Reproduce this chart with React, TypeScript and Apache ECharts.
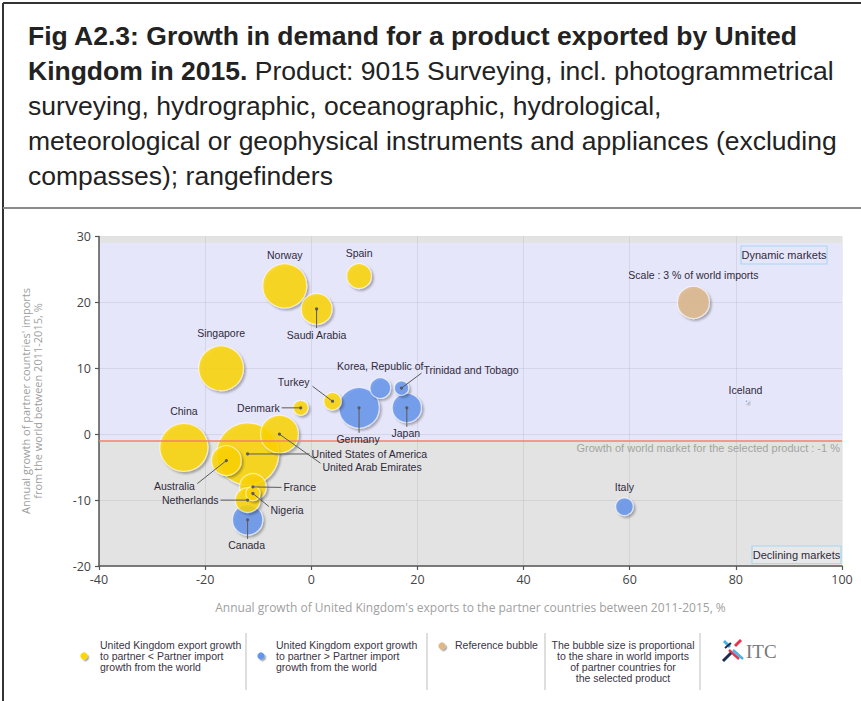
import React, { useEffect, useRef } from "react";
import * as echarts from "echarts";

// ---------- data ----------
const countries = [
  "Norway",
  "Spain",
  "Saudi Arabia",
  "Singapore",
  "Turkey",
  "Denmark",
  "Germany",
  "Korea, Republic of",
  "Trinidad and Tobago",
  "Japan",
  "China",
  "United States of America",
  "United Arab Emirates",
  "Australia",
  "France",
  "Netherlands",
  "Nigeria",
  "Canada",
  "Italy",
  "Iceland",
];
// Annual growth of UK exports to partner, 2011-2015 (%)
const exportGrowth = [-5, 9, 1, -17, 4, -2, 9, 13, 17, 18, -24, -12, -6, -16, -11, -12, -11, -12, 59, 82];
// Annual growth of partner imports from the world, 2011-2015 (%)
const importGrowth = [22.5, 24, 19, 10, 5, 4, 4, 7, 7, 4, -2, -3, 0, -4, -8, -10, -9, -13, -11, 5];
// Share in world imports (%), drives bubble size
const importShare = [5.7, 1.8, 2.8, 5.9, 0.9, 0.65, 4.8, 1.25, 0.6, 2.5, 6.8, 11.3, 4.2, 2.6, 2.1, 1.8, 0.6, 2.7, 0.9, 0.02];

const referenceLabel = "Scale : 3 % of world imports";
const referencePoint = [72, 20];
const referenceShare = 3;
const worldMarketGrowth = -1;
const dynamicAreaTop = 29;
const xRange = [-40, 100];
const xInterval = 20;
const yRange = [-20, 30];
const yInterval = 10;

// ---------- styling / label placement (pixels relative to bubble centre) ----------
type Lay = { dx: number; dy: number; align?: string; line?: [number, number] };
const labelLayout: Record<string, Lay> = {
  Norway: { dx: 0, dy: -31 },
  Spain: { dx: 0, dy: -23 },
  "Saudi Arabia": { dx: 0, dy: 26, line: [0, 19] },
  Singapore: { dx: 0, dy: -35 },
  Turkey: { dx: -23, dy: -19, align: "right", line: [-20, -15] },
  Denmark: { dx: -21, dy: 0, align: "right", line: [-19, 0] },
  Germany: { dx: -1, dy: 31.5, line: [0, 25] },
  "Korea, Republic of": { dx: 0, dy: -22 },
  "Trinidad and Tobago": { dx: 22, dy: -18, align: "left", line: [20, -15] },
  Japan: { dx: -1, dy: 25, line: [0, 19] },
  China: { dx: 0, dy: -36.5 },
  "United States of America": { dx: 64, dy: 0, align: "left", line: [62, 0] },
  "United Arab Emirates": { dx: 43, dy: 32.5, align: "left", line: [41, 29] },
  Australia: { dx: -31.5, dy: 25.5, align: "right", line: [-29, 23] },
  France: { dx: 30.5, dy: 0.5, align: "left", line: [28.5, 0.5] },
  Netherlands: { dx: -29, dy: 0, align: "right", line: [-27, 0] },
  Nigeria: { dx: 17.5, dy: 16.5, align: "left", line: [16, 13] },
  Canada: { dx: -1, dy: 25.5, line: [0, 19] },
  Italy: { dx: 0, dy: -20 },
  Iceland: { dx: -1, dy: -11.5 },
  [referenceLabel]: { dx: 0, dy: -27.5 },
};

const YELLOW = "#ffd700";
const BLUE = "#6495ed";
const TAN = "#deb887";
const LAVENDER = "#e6e6fa";
const PLOT_GRAY = "#e3e3e3";
const LABEL_FONT = "'Liberation Sans', Arial, sans-serif";
const AXIS_FONT = "'Open Sans', 'Noto Sans', sans-serif";

const bubbleDiameter = (share: number) => 32 * Math.sqrt(share / referenceShare);

const bubbleStyle = (color: string) => ({
  color,
  borderColor: "rgba(255,255,255,0.75)",
  borderWidth: 1.2,
  shadowColor: "rgba(0,0,0,0.35)",
  shadowBlur: 2,
  shadowOffsetX: 2,
  shadowOffsetY: 2,
});

export default function App() {
  const ref = useRef<HTMLDivElement>(null);

  useEffect(() => {
    if (!ref.current) return;
    const chart = echarts.init(ref.current, undefined, { renderer: "svg" });

    const idx = countries.map((_, i) => i).sort((a, b) => importShare[b] - importShare[a]);
    const blueData = idx
      .filter((i) => exportGrowth[i] > importGrowth[i])
      .map((i) => ({ name: countries[i], value: [exportGrowth[i], importGrowth[i], importShare[i]] }));
    const yellowData = idx
      .filter((i) => exportGrowth[i] <= importGrowth[i])
      .map((i) => ({ name: countries[i], value: [exportGrowth[i], importGrowth[i], importShare[i]] }));

    const labelData = countries.map((_, i) => [exportGrowth[i], importGrowth[i], i]);
    labelData.push([referencePoint[0], referencePoint[1], -1]);

    const titleStyle = { fontSize: 26.5, fontFamily: LABEL_FONT, fill: "#222", textVerticalAlign: "middle" };
    const legendText = { fontSize: 10.5, fontFamily: LABEL_FONT, fill: "#3a3445", lineHeight: 11, textVerticalAlign: "middle" };
    const dot = (cx: number, cy: number, color: string) => ({
      type: "circle",
      shape: { cx, cy, r: 3.6 },
      style: { fill: color, shadowColor: "rgba(0,0,0,0.35)", shadowBlur: 1.5, shadowOffsetX: 1.5, shadowOffsetY: 1.5 },
    });
    const sep = (x: number) => ({
      type: "line",
      shape: { x1: x, y1: 633, x2: x, y2: 690 },
      style: { stroke: "#c8c8c8", lineWidth: 1.2 },
    });
    const tagStyle = { fontSize: 11, fontFamily: LABEL_FONT, fill: "#2f2a3a", textAlign: "center", textVerticalAlign: "middle" };

    const option: any = {
      animation: false,
      grid: {
        left: 99,
        right: 19,
        top: 236.5,
        bottom: 135,
        show: true,
        backgroundColor: PLOT_GRAY,
        borderWidth: 0,
      },
      xAxis: {
        type: "value",
        min: xRange[0],
        max: xRange[1],
        interval: xInterval,
        z: 2,
        axisLine: { onZero: false, lineStyle: { color: "#555", width: 1.5 } },
        axisTick: { show: true, length: 4, lineStyle: { color: "#555", width: 1.2 } },
        axisLabel: { color: "#444", fontSize: 12.5, fontFamily: AXIS_FONT, margin: 7 },
        splitLine: { show: true, lineStyle: { color: "rgba(0,0,0,0.07)", width: 1 } },
      },
      yAxis: {
        type: "value",
        min: yRange[0],
        max: yRange[1],
        interval: yInterval,
        z: 2,
        axisLine: { show: true, onZero: false, lineStyle: { color: "#555", width: 1.5 } },
        axisTick: { show: true, length: 4, lineStyle: { color: "#555", width: 1.2 } },
        axisLabel: { color: "#444", fontSize: 12.5, fontFamily: AXIS_FONT, margin: 8 },
        splitLine: { show: true, lineStyle: { color: "rgba(0,0,0,0.07)", width: 1 } },
      },
      series: [
        {
          type: "scatter",
          name: "areas",
          data: [],
          z: 1,
          silent: true,
          markArea: {
            silent: true,
            itemStyle: { color: LAVENDER },
            data: [[{ yAxis: worldMarketGrowth }, { yAxis: dynamicAreaTop }]],
          },
          markLine: {
            silent: true,
            symbol: "none",
            data: [
              {
                yAxis: worldMarketGrowth,
                lineStyle: { color: "#f4806c", width: 1.6, type: "solid" },
                label: {
                  show: true,
                  position: "insideEndBottom",
                  formatter: `Growth of world market for the selected product : ${worldMarketGrowth} %`,
                  color: "#a3a3a3",
                  fontSize: 11,
                  fontFamily: LABEL_FONT,
                  distance: 2,
                },
              },
              {
                yAxis: worldMarketGrowth,
                lineStyle: { opacity: 0 },
                label: {
                  show: true,
                  position: "start",
                  formatter: String(worldMarketGrowth),
                  color: "#e8432f",
                  fontSize: 11,
                  fontFamily: LABEL_FONT,
                  distance: 12,
                },
              },
            ],
          },
        },
        {
          type: "scatter",
          name: "UK export growth > partner import growth",
          data: blueData,
          z: 3,
          silent: true,
          symbolSize: (v: number[]) => bubbleDiameter(v[2]),
          itemStyle: bubbleStyle(BLUE),
        },
        {
          type: "scatter",
          name: "UK export growth < partner import growth",
          data: yellowData,
          z: 4,
          silent: true,
          symbolSize: (v: number[]) => bubbleDiameter(v[2]),
          itemStyle: bubbleStyle(YELLOW),
        },
        {
          type: "scatter",
          name: "Reference bubble",
          data: [{ name: referenceLabel, value: [referencePoint[0], referencePoint[1], referenceShare] }],
          z: 4,
          silent: true,
          symbolSize: (v: number[]) => bubbleDiameter(v[2]),
          itemStyle: bubbleStyle(TAN),
        },
        {
          type: "custom",
          name: "labels",
          data: labelData,
          z: 5,
          silent: true,
          clip: false,
          renderItem: (params: any, api: any) => {
            const i = api.value(2);
            const name = i >= 0 ? countries[i] : referenceLabel;
            const p = api.coord([api.value(0), api.value(1)]);
            const lay = labelLayout[name] || { dx: 0, dy: -15 };
            const children: any[] = [];
            if (lay.line) {
              children.push({
                type: "line",
                shape: { x1: p[0], y1: p[1], x2: p[0] + lay.line[0], y2: p[1] + lay.line[1] },
                style: { stroke: "#5a5a5a", lineWidth: 1 },
              });
              children.push({
                type: "circle",
                shape: { cx: p[0], cy: p[1], r: 1.6 },
                style: { fill: "#5a5a5a" },
              });
            }
            children.push({
              type: "text",
              x: p[0] + lay.dx,
              y: p[1] + lay.dy,
              style: {
                text: name,
                fill: "#2f2a3a",
                fontSize: 10.5,
                fontFamily: LABEL_FONT,
                textAlign: lay.align || "center",
                textVerticalAlign: "middle",
              },
            });
            return { type: "group", children };
          },
        },
      ],
      graphic: [
        // frame
        { type: "line", z: 50, shape: { x1: 3, y1: 3, x2: 861, y2: 3 }, style: { stroke: "#333", lineWidth: 2 } },
        { type: "line", z: 50, shape: { x1: 3, y1: 3, x2: 3, y2: 701 }, style: { stroke: "#333", lineWidth: 2 } },
        { type: "line", z: 50, shape: { x1: 3, y1: 208, x2: 861, y2: 208 }, style: { stroke: "#8a8a8a", lineWidth: 2 } },
        // title
        {
          type: "text",
          x: 28,
          y: 36,
          style: { ...titleStyle, text: "Fig A2.3: Growth in demand for a product exported by United", fontWeight: "bold" },
        },
        {
          type: "text",
          x: 28,
          y: 71,
          style: {
            ...titleStyle,
            text: "{b|Kingdom in 2015.} Product: 9015 Surveying, incl. photogrammetrical",
            rich: { b: { fontWeight: "bold", fontSize: 26.5, fontFamily: LABEL_FONT, fill: "#222" } },
          },
        },
        { type: "text", x: 28, y: 106, style: { ...titleStyle, text: "surveying, hydrographic, oceanographic, hydrological," } },
        {
          type: "text",
          x: 28,
          y: 141,
          style: { ...titleStyle, text: "meteorological or geophysical instruments and appliances (excluding" },
        },
        { type: "text", x: 28, y: 176, style: { ...titleStyle, text: "compasses); rangefinders" } },
        // quadrant tags
        { type: "rect", z: 60, shape: { x: 741, y: 246, width: 86, height: 18 }, style: { fill: LAVENDER, stroke: "#a8d8f2", lineWidth: 1.2 } },
        { type: "text", z: 61, x: 784, y: 255, style: { ...tagStyle, text: "Dynamic markets" } },
        { type: "rect", z: 60, shape: { x: 752, y: 546, width: 89, height: 17.5 }, style: { fill: "#e8e8e8", stroke: "#a8d8f2", lineWidth: 1.2 } },
        { type: "text", z: 61, x: 796.5, y: 555, style: { ...tagStyle, text: "Declining markets" } },
        // axis titles
        {
          type: "text",
          x: 31,
          y: 401,
          rotation: Math.PI / 2,
          style: {
            text: "Annual growth of partner countries' imports\nfrom the world between 2011-2015, %",
            fontSize: 11,
            fontFamily: AXIS_FONT,
            fill: "#a0a0a0",
            lineHeight: 12,
            textAlign: "center",
            textVerticalAlign: "middle",
          },
        },
        {
          type: "text",
          x: 470.5,
          y: 607,
          style: {
            text: "Annual growth of United Kingdom's exports to the partner countries between 2011-2015, %",
            fontSize: 12,
            fontFamily: AXIS_FONT,
            fill: "#a0a0a0",
            textAlign: "center",
            textVerticalAlign: "middle",
          },
        },
        // legend panel
        dot(84, 656, YELLOW),
        {
          type: "text",
          x: 100,
          y: 656,
          style: { ...legendText, text: "United Kingdom export growth\nto partner < Partner import\ngrowth from the world" },
        },
        sep(246),
        dot(261, 656, BLUE),
        {
          type: "text",
          x: 276,
          y: 656,
          style: { ...legendText, text: "United Kingdom export growth\nto partner > Partner import\ngrowth from the world" },
        },
        sep(427),
        dot(442, 646, TAN),
        { type: "text", x: 455, y: 645, style: { ...legendText, text: "Reference bubble" } },
        sep(545),
        {
          type: "text",
          x: 623,
          y: 661.5,
          style: {
            ...legendText,
            textAlign: "center",
            text: "The bubble size is proportional\nto the share in world imports\nof partner countries for\nthe selected product",
          },
        },
        sep(700),
        // ITC logo
        { type: "line", shape: { x1: 724, y1: 641, x2: 730, y2: 647 }, style: { stroke: "#4ab3e6", lineWidth: 3 } },
        { type: "line", shape: { x1: 741, y1: 640, x2: 735, y2: 646 }, style: { stroke: "#e2374f", lineWidth: 3 } },
        { type: "line", shape: { x1: 729, y1: 650, x2: 739, y2: 659 }, style: { stroke: "#e2374f", lineWidth: 2.5 } },
        { type: "line", shape: { x1: 733, y1: 650, x2: 743, y2: 659 }, style: { stroke: "#4ab3e6", lineWidth: 2.5 } },
        { type: "line", shape: { x1: 723, y1: 661, x2: 731, y2: 653 }, style: { stroke: "#1d2c4f", lineWidth: 3 } },
        { type: "line", shape: { x1: 725, y1: 648, x2: 731, y2: 643 }, style: { stroke: "#1d2c4f", lineWidth: 2 } },
        {
          type: "text",
          x: 746,
          y: 651,
          style: { text: "ITC", fontSize: 19, fontFamily: "'Liberation Serif', 'DejaVu Serif', serif", fill: "#777", textVerticalAlign: "middle" },
        },
      ],
    };

    chart.setOption(option);
    return () => chart.dispose();
  }, []);

  return <div ref={ref} style={{ position: "absolute", left: 0, top: 0, width: 861, height: 701, background: "#fff" }} />;
}
